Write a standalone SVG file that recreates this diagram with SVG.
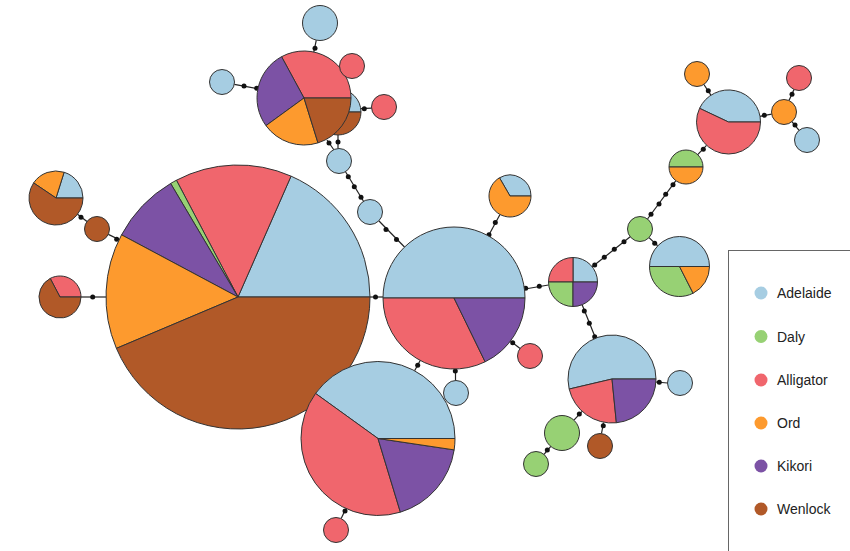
<svg xmlns="http://www.w3.org/2000/svg" width="850" height="551" viewBox="0 0 850 551">
<style>
.s{stroke:#333;stroke-width:1}
.A{fill:#a6cde2}.D{fill:#97d174}.L{fill:#f0666d}.O{fill:#fd9a2e}.K{fill:#7c52a5}.W{fill:#b15928}
.e path,.e line{stroke:#222;stroke-width:1.2;fill:none}
.e circle{fill:#111}
.lt{font-family:"Liberation Sans",Arial,sans-serif;font-size:14px;fill:#222}
</style>
<rect width="850" height="551" fill="#fff"/>
<g id="connectors" class="e">
<line x1="316.3" y1="40.1" x2="313.8" y2="52"/><circle cx="315" cy="48.3" r="2.5"/>
<line x1="234.3" y1="84.4" x2="257.9" y2="88.8"/><circle cx="244" cy="86" r="2.5"/><circle cx="256.7" cy="88.3" r="2.5"/>
<line x1="360.5" y1="108.7" x2="371.7" y2="108.2"/><circle cx="364.3" cy="108.7" r="2.5"/>
<line x1="334" y1="150" x2="327" y2="140"/><circle cx="329" cy="143" r="2.5"/>
<line x1="338" y1="148.5" x2="338" y2="135"/><circle cx="338" cy="142" r="2.5"/>
<line x1="345.5" y1="171.7" x2="363.5" y2="201.3"/><circle cx="348.3" cy="176.7" r="2.5"/><circle cx="354.3" cy="186.7" r="2.5"/><circle cx="361" cy="197.3" r="2.5"/>
<line x1="379" y1="221" x2="404.5" y2="247"/><circle cx="386" cy="229.5" r="2.5"/><circle cx="396.5" cy="239.5" r="2.5"/>
<line x1="370" y1="297" x2="383" y2="297"/><circle cx="375.5" cy="297" r="2.5"/>
<line x1="500" y1="214.5" x2="489" y2="234.7"/><circle cx="495.3" cy="222.5" r="2.5"/><circle cx="489" cy="234.7" r="2.5"/>
<line x1="525" y1="289" x2="548.5" y2="285"/><circle cx="525.7" cy="288.3" r="2.5"/><circle cx="539.3" cy="286.3" r="2.5"/>
<line x1="592.2" y1="266.8" x2="630.2" y2="236.8"/><circle cx="594.7" cy="265" r="2.5"/><circle cx="604.3" cy="257.3" r="2.5"/><circle cx="614.3" cy="249.3" r="2.5"/><circle cx="624" cy="241.7" r="2.5"/>
<line x1="647.5" y1="219" x2="675.9" y2="180.7"/><circle cx="651" cy="214.3" r="2.5"/><circle cx="659" cy="204" r="2.5"/><circle cx="665.7" cy="194.3" r="2.5"/><circle cx="673" cy="184.7" r="2.5"/>
<line x1="649" y1="237.6" x2="657.7" y2="245.8"/><circle cx="654.7" cy="243.3" r="2.5"/>
<line x1="697.7" y1="154.6" x2="706.5" y2="145.3"/><circle cx="703.3" cy="149.3" r="2.5"/>
<line x1="703.9" y1="84.5" x2="710.9" y2="95.2"/><circle cx="708.3" cy="90.7" r="2.5"/>
<line x1="760" y1="116.3" x2="771.7" y2="114.2"/><circle cx="764.3" cy="115.3" r="2.5"/>
<line x1="789" y1="100.6" x2="794" y2="89.4"/><circle cx="792" cy="94.3" r="2.5"/>
<line x1="791.9" y1="121.7" x2="799.1" y2="130.3"/><circle cx="795" cy="125" r="2.5"/>
<line x1="582.1" y1="304.7" x2="595.6" y2="338.2"/><circle cx="584.3" cy="311" r="2.5"/><circle cx="589.3" cy="323.3" r="2.5"/><circle cx="594.7" cy="336.7" r="2.5"/>
<line x1="656" y1="382" x2="667.5" y2="383"/><circle cx="659.3" cy="382.3" r="2.5"/>
<line x1="582.1" y1="411.3" x2="573.9" y2="420.2"/><circle cx="579.3" cy="414" r="2.5"/>
<line x1="550.8" y1="446.4" x2="544" y2="454.4"/><circle cx="547.3" cy="450" r="2.5"/>
<line x1="603.5" y1="422.5" x2="601.5" y2="433.5"/><circle cx="603.3" cy="425.7" r="2.5"/>
<line x1="510.4" y1="341.1" x2="520.1" y2="348.4"/><circle cx="512.7" cy="342.7" r="2.5"/>
<line x1="455.5" y1="369" x2="455.5" y2="380.5"/><circle cx="455.3" cy="371" r="2.5"/>
<line x1="414.6" y1="370.7" x2="420.2" y2="360.5"/><circle cx="417.7" cy="365.3" r="2.5"/>
<line x1="345.9" y1="508.5" x2="341.2" y2="518.6"/><circle cx="345" cy="511" r="2.5"/>
<line x1="77.5" y1="214.3" x2="87" y2="221.5"/><circle cx="81" cy="217.3" r="2.5"/>
<line x1="108.3" y1="234.4" x2="121" y2="240.5"/><circle cx="116.7" cy="239.3" r="2.5"/>
<line x1="81" y1="297" x2="106" y2="297"/><circle cx="92.7" cy="297" r="2.5"/>
</g>
<g id="n-big" class="s">
<path class="A" d="M238,297 L370,297 A132,132 0 0 0 291.05,176.13 Z"/>
<path class="L" d="M238,297 L291.05,176.13 A132,132 0 0 0 176.43,180.23 Z"/>
<path class="D" d="M238,297 L176.43,180.23 A132,132 0 0 0 170.61,183.49 Z"/>
<path class="K" d="M238,297 L170.61,183.49 A132,132 0 0 0 121.56,234.83 Z"/>
<path class="O" d="M238,297 L121.56,234.83 A132,132 0 0 0 116.4,348.36 Z"/>
<path class="W" d="M238,297 L116.4,348.36 A132,132 0 0 0 370,297 Z"/>
</g>
<g id="n-center" class="s">
<path class="A" d="M454,298 L525,298 A71,71 0 0 0 383,298 Z"/>
<path class="L" d="M454,298 L383,298 A71,71 0 0 0 485.13,361.81 Z"/>
<path class="K" d="M454,298 L485.13,361.81 A71,71 0 0 0 525,298 Z"/>
</g>
<g id="n-bottom" class="s">
<path class="A" d="M378,438.5 L455,438.5 A77,77 0 0 0 315.55,393.45 Z"/>
<path class="L" d="M378,438.5 L315.55,393.45 A77,77 0 0 0 400.38,512.17 Z"/>
<path class="K" d="M378,438.5 L400.38,512.17 A77,77 0 0 0 454.15,449.88 Z"/>
<path class="O" d="M378,438.5 L454.15,449.88 A77,77 0 0 0 455,438.5 Z"/>
</g>
<g id="n-top2" class="s">
<path class="A" d="M338,112 L361,112 A23,23 0 0 0 315,112 Z"/>
<path class="W" d="M338,112 L315,112 A23,23 0 0 0 361,112 Z"/>
</g>
<g id="n-top" class="s">
<path class="L" d="M304,98 L351,98 A47,47 0 0 0 281.57,56.7 Z"/>
<path class="K" d="M304,98 L281.57,56.7 A47,47 0 0 0 265.98,125.63 Z"/>
<path class="O" d="M304,98 L265.98,125.63 A47,47 0 0 0 317.98,142.88 Z"/>
<path class="W" d="M304,98 L317.98,142.88 A47,47 0 0 0 351,98 Z"/>
</g>
<g id="n-orangepie" class="s">
<path class="A" d="M510,196 L531,196 A21,21 0 0 0 499.5,177.81 Z"/>
<path class="O" d="M510,196 L499.5,177.81 A21,21 0 1 0 531,196 Z"/>
</g>
<g id="n-quad" class="s">
<path class="A" d="M573,282 L597.5,282 A24.5,24.5 0 0 0 573,257.5 Z"/>
<path class="L" d="M573,282 L573,257.5 A24.5,24.5 0 0 0 548.5,282 Z"/>
<path class="D" d="M573,282 L548.5,282 A24.5,24.5 0 0 0 573,306.5 Z"/>
<path class="K" d="M573,282 L573,306.5 A24.5,24.5 0 0 0 597.5,282 Z"/>
</g>
<g id="n-go" class="s">
<path class="D" d="M686,167 L703,167 A17,17 0 0 0 669,167 Z"/>
<path class="O" d="M686,167 L669,167 A17,17 0 0 0 703,167 Z"/>
</g>
<g id="n-tr" class="s">
<path class="A" d="M728.5,122 L760.5,122 A32,32 0 0 0 699.57,108.32 Z"/>
<path class="L" d="M728.5,122 L699.57,108.32 A32,32 0 1 0 760.5,122 Z"/>
</g>
<g id="n-ado" class="s">
<path class="A" d="M679.5,266.5 L709.5,266.5 A30,30 0 0 0 649.5,266.5 Z"/>
<path class="D" d="M679.5,266.5 L649.5,266.5 A30,30 0 0 0 693.12,293.23 Z"/>
<path class="O" d="M679.5,266.5 L693.12,293.23 A30,30 0 0 0 709.5,266.5 Z"/>
</g>
<g id="n-lr" class="s">
<path class="A" d="M612,379 L656,379 A44,44 0 1 0 569.16,389.05 Z"/>
<path class="L" d="M612,379 L569.16,389.05 A44,44 0 0 0 616.37,422.78 Z"/>
<path class="K" d="M612,379 L616.37,422.78 A44,44 0 0 0 656,379 Z"/>
</g>
<g id="n-lt" class="s">
<path class="A" d="M56,198 L83,198 A27,27 0 0 0 64.12,172.25 Z"/>
<path class="O" d="M56,198 L64.12,172.25 A27,27 0 0 0 33.62,182.9 Z"/>
<path class="W" d="M56,198 L33.62,182.9 A27,27 0 1 0 83,198 Z"/>
</g>
<g id="n-lb" class="s">
<path class="L" d="M60,297 L81,297 A21,21 0 0 0 50.21,278.42 Z"/>
<path class="W" d="M60,297 L50.21,278.42 A21,21 0 1 0 81,297 Z"/>
</g>
<g id="singles" class="s">
<circle id="n1" class="A" cx="320" cy="23" r="17.5"/>
<circle id="n2" class="A" cx="222" cy="82" r="12.5"/>
<circle id="n3" class="L" cx="352" cy="66" r="12.5"/>
<circle id="n4" class="L" cx="384" cy="107" r="12.5"/>
<circle id="n5" class="A" cx="339" cy="161" r="12.5"/>
<circle id="n6" class="A" cx="370" cy="212" r="12.5"/>
<circle id="n7" class="D" cx="640" cy="229" r="12.5"/>
<circle id="n8" class="O" cx="697" cy="74" r="12.5"/>
<circle id="n9" class="L" cx="799" cy="78" r="12.5"/>
<circle id="n10" class="O" cx="784" cy="112" r="12.5"/>
<circle id="n11" class="A" cx="807" cy="140" r="12.5"/>
<circle id="n12" class="L" cx="530" cy="356" r="12.5"/>
<circle id="n13" class="A" cx="456" cy="393" r="12.5"/>
<circle id="n14" class="L" cx="336" cy="530" r="12.5"/>
<circle id="n15" class="A" cx="680" cy="383" r="12.5"/>
<circle id="n16" class="D" cx="562" cy="433" r="17.5"/>
<circle id="n17" class="D" cx="536" cy="464" r="12.5"/>
<circle id="n18" class="W" cx="600" cy="446" r="12.5"/>
<circle id="n19" class="W" cx="97" cy="229" r="12.5"/>
</g>
<g id="legend">
<rect x="728.5" y="250.5" width="130" height="310" fill="#fff" stroke="#666" stroke-width="1"/>
<circle class="A" cx="761" cy="293" r="6.5"/><text class="lt" x="777" y="298">Adelaide</text>
<circle class="D" cx="761" cy="336.5" r="6.5"/><text class="lt" x="777" y="341.5">Daly</text>
<circle class="L" cx="761" cy="380" r="6.5"/><text class="lt" x="777" y="385">Alligator</text>
<circle class="O" cx="761" cy="423" r="6.5"/><text class="lt" x="777" y="428">Ord</text>
<circle class="K" cx="761" cy="466" r="6.5"/><text class="lt" x="777" y="471">Kikori</text>
<circle class="W" cx="761" cy="509" r="6.5"/><text class="lt" x="777" y="514">Wenlock</text>
</g>
</svg>
